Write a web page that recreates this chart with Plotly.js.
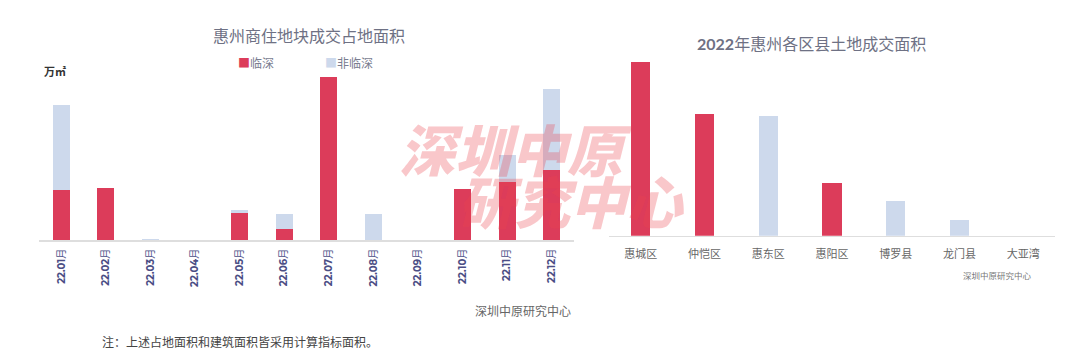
<!DOCTYPE html>
<html>
<head>
<meta charset="utf-8">
<script src="https://cdn.plot.ly/plotly-3.0.1.min.js"></script>
<style>html,body{margin:0;padding:0;background:#fff;}#chart{width:1080px;height:354px;}</style>
</head>
<body>
<div id="chart"></div>
<script>
// ---- data ----
const months = ['22.01','22.02','22.03','22.04','22.05','22.06','22.07','22.08','22.09','22.10','22.11','22.12'];
const linshen = [12.5, 13.2, 0, 0, 6.9, 2.8, 40.8, 0, 0, 12.9, 14.6, 17.6];
const feiLinshen = [21.3, 0, 0.3, 0, 0.8, 3.9, 0, 6.6, 0, 0, 6.7, 20.2];
const districts = ['惠城区','仲恺区','惠东区','惠阳区','博罗县','龙门县','大亚湾'];
const districtArea = [60.7, 42.4, 41.9, 18.3, 12.1, 5.5, 0];
const districtType = ['临深','临深','非临深','临深','非临深','非临深','临深'];
const seriesNames = ['临深','非临深'];

const RED = '#dc3c5a';
const GREY = '#cdd9ec';
const CJK = 'Noto Sans CJK SC, Noto Sans, sans-serif';

const W = 1080, H = 354;
const px = x => x / W;
const py = y => 1 - y / H;

const traces = [
  {type:'bar', x: months, y: linshen, name: seriesNames[0], marker:{color: RED}, width:0.38,
   xaxis:'x', yaxis:'y', showlegend:false, hoverinfo:'x+y+name'},
  {type:'bar', x: months, y: feiLinshen, name: seriesNames[1], marker:{color: GREY}, width:0.38,
   xaxis:'x', yaxis:'y', showlegend:false, hoverinfo:'x+y+name'},
  {type:'bar', x: districts, y: districtArea, name:'2022',
   marker:{color: districtType.map(t => t === '临深' ? RED : GREY)}, width:0.3,
   xaxis:'x2', yaxis:'y2', showlegend:false}
];

const annotations = [
  {text:'惠州商住地块成交占地面积', x:px(309), y:py(35), xref:'paper', yref:'paper',
   showarrow:false, xanchor:'center', yanchor:'middle', font:{family:CJK, size:16, color:'#6e7184'}},
  {text:'<b>2022</b>年惠州各区县土地成交面积', x:px(811), y:py(43), xref:'paper', yref:'paper',
   showarrow:false, xanchor:'center', yanchor:'middle', font:{family:'Lato, '+CJK, size:16, color:'#6e7184'}},
  {text:'<span style="color:'+RED+'">■</span>'+seriesNames[0], x:px(236), y:py(63), xref:'paper', yref:'paper',
   showarrow:false, xanchor:'left', yanchor:'middle', font:{family:CJK, size:12, color:'#7a7d90'}},
  {text:'<span style="color:'+GREY+'">■</span>'+seriesNames[1], x:px(323), y:py(63), xref:'paper', yref:'paper',
   showarrow:false, xanchor:'left', yanchor:'middle', font:{family:CJK, size:12, color:'#7a7d90'}},
  {text:'<b>万㎡</b>', x:px(42), y:py(71), xref:'paper', yref:'paper',
   showarrow:false, xanchor:'left', yanchor:'middle', font:{family:CJK, size:11, color:'#333333'}},
  {text:'深圳中原研究中心', x:px(573), y:py(310), xref:'paper', yref:'paper',
   showarrow:false, xanchor:'right', yanchor:'middle', font:{family:CJK, size:12, color:'#666666'}},
  {text:'注：上述占地面积和建筑面积皆采用计算指标面积。', x:px(100), y:py(341), xref:'paper', yref:'paper',
   showarrow:false, xanchor:'left', yanchor:'middle', font:{family:CJK, size:12, color:'#444444'}},
  {text:'深圳中原研究中心', x:px(1034), y:py(275), xref:'paper', yref:'paper',
   showarrow:false, xanchor:'right', yanchor:'middle', font:{family:CJK, size:8.5, color:'#777777'}},
  // watermark
  {text:'深圳中原', x:px(515), y:py(147), xref:'paper', yref:'paper',
   showarrow:false, xanchor:'center', yanchor:'middle',
   font:{family:CJK, size:56, color:'rgba(236,70,80,0.30)', weight:900, style:'italic'}},
  {text:'研究中心', x:px(571), y:py(199), xref:'paper', yref:'paper',
   showarrow:false, xanchor:'center', yanchor:'middle',
   font:{family:CJK, size:56, color:'rgba(236,70,80,0.30)', weight:900, style:'italic'}}
];

const layout = {
  width: W, height: H,
  margin:{l:0, r:0, t:0, b:0},
  paper_bgcolor:'#ffffff', plot_bgcolor:'rgba(0,0,0,0)',
  barmode:'stack',
  showlegend:false,
  xaxis:{domain:[px(39), px(574)], anchor:'y', type:'category', range:[-0.5, 11.5],
    showline:true, linecolor:'#dedede', linewidth:1.5, showgrid:false, zeroline:false, ticks:'',
    ticklabelstandoff:3,
    tickangle:-90, tickvals: months, ticktext: months.map(m => '<b>'+m+'</b>月'),
    tickfont:{family:'Montserrat, Lato, '+CJK, size:10, color:'#4b4e85'}, fixedrange:true},
  yaxis:{domain:[py(240.3), py(60)], anchor:'x', range:[0, 45.075], visible:false, fixedrange:true},
  xaxis2:{domain:[px(609), px(1055)], anchor:'y2', type:'category', range:[-0.5, 6.5],
    showline:true, linecolor:'#dedede', linewidth:1.5, showgrid:false, zeroline:false, ticks:'',
    ticklabelstandoff:8,
    tickfont:{family:CJK, size:11, color:'#666666'}, fixedrange:true},
  yaxis2:{domain:[py(235.7), py(50)], anchor:'x2', range:[0, 64.93], visible:false, fixedrange:true},
  annotations: annotations
};

Plotly.newPlot('chart', traces, layout, {displayModeBar:false, staticPlot:true});
</script>
</body>
</html>
